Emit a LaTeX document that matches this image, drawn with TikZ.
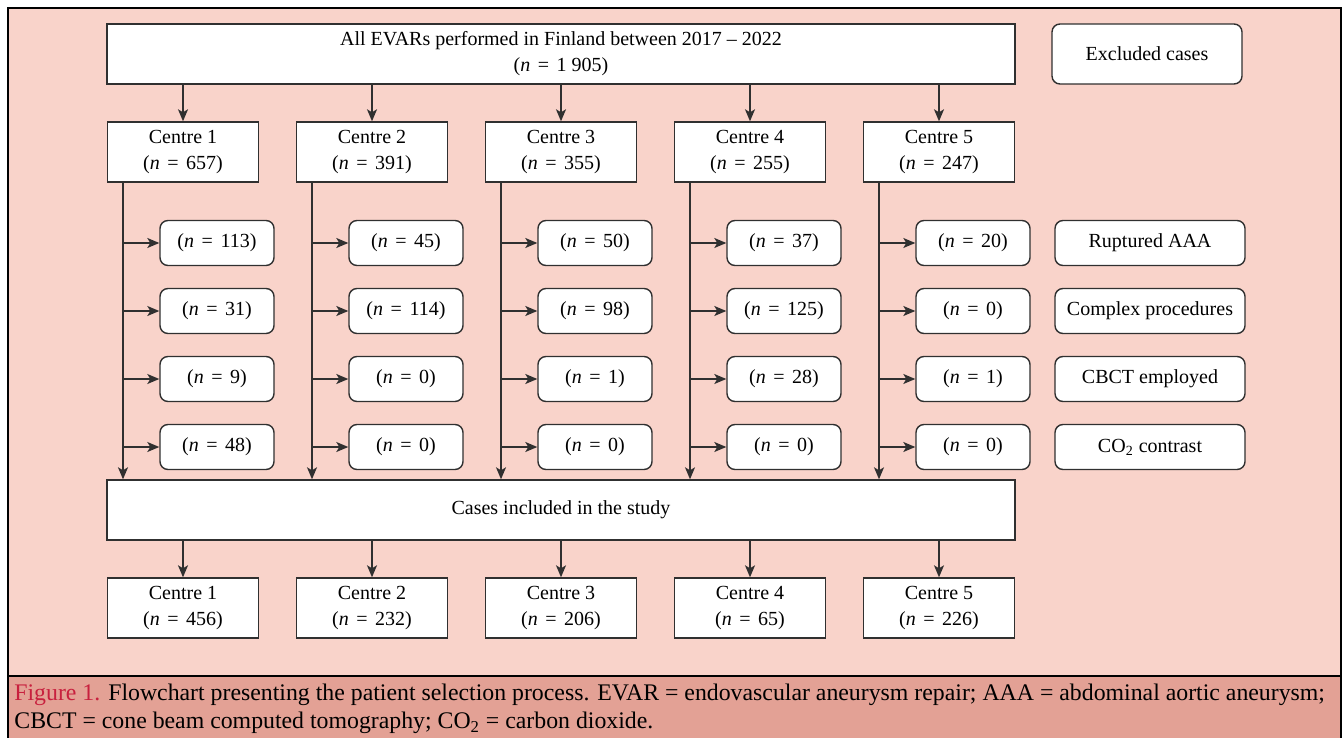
\documentclass[tikz,border=0pt]{standalone}
\usepackage{fontspec}
\setmainfont{Liberation Serif}
\newfontfamily\capfont{Liberation Serif}
\usetikzlibrary{arrows.meta}

\definecolor{panelpink}{HTML}{F9D3CA}
\definecolor{capband}{HTML}{E3A195}
\definecolor{figred}{HTML}{C8203E}
\definecolor{linegrey}{HTML}{303030}

\newcommand{\ncount}[1]{(\textit{n}\hspace{0.38em}=\hspace{0.38em}#1)}

\tikzset{
  box/.style={draw=linegrey, fill=white, line width=0.7pt, align=center,
    inner sep=0pt, minimum height=30pt, font=\fontsize{10}{13}\selectfont},
  centrebox/.style={box, minimum width=75.5pt},
  countbox/.style={box, rounded corners=4pt, minimum width=57pt, minimum height=22.5pt},
  reasonbox/.style={countbox, minimum width=95pt},
  flow/.style={draw=linegrey, line width=0.7pt,
    -{Stealth[length=6pt,width=5pt,inset=1.5pt]}},
}

\begin{document}
\begin{tikzpicture}[x=0.5pt,y=-0.5pt]
  \useasboundingbox (0,0) rectangle (1343,738);
  %
  \fill[panelpink] (8,8) rectangle (1341,676);
  \fill[capband] (8,676) rectangle (1341,738);
  \draw[line width=1pt] (8,738) -- (8,8) -- (1341,8) -- (1341,738);
  \draw[line width=1pt] (8,676) -- (1341,676);
  %
  \node[box, minimum width=454pt] (all) at (561,54)
    {All EVARs performed in Finland between 2017 -- 2022\\\ncount{1 905}};
  \node[box, rounded corners=4pt, minimum width=95pt] (excl) at (1147,54) {Excluded cases};
  \node[box, minimum width=454pt] (incl) at (561,510) {Cases included in the study};
  %
  \foreach \i/\a/\b in {1/657/456, 2/391/232, 3/355/206, 4/255/65, 5/247/226} {
    \pgfmathsetmacro\cx{183+189*(\i-1)}
    \node[centrebox] (c\i) at (\cx,152) {Centre \i\\\ncount{\a}};
    \node[centrebox] (f\i) at (\cx,608) {Centre \i\\\ncount{\b}};
    \coordinate (v\i) at (\cx-60,182);
    \draw[flow] (all.south -| c\i) -- (c\i.north);
    \draw[flow] (incl.south -| f\i) -- (f\i.north);
    \draw[flow] (v\i) -- (v\i |- incl.north);
  }
  %
  \foreach \i/\p/\q/\s/\t in {1/113/31/9/48, 2/45/114/0/0, 3/50/98/1/0,
                              4/37/125/28/0, 5/20/0/1/0} {
    \pgfmathsetmacro\cx{183+189*(\i-1)}
    \foreach \r/\v in {1/\p, 2/\q, 3/\s, 4/\t} {
      \pgfmathsetmacro\ry{243+68*(\r-1)}
      \node[countbox] (x\i\r) at (\cx+34,\ry) {\ncount{\v}};
      \draw[flow] (v\i |- x\i\r) -- (x\i\r.west);
    }
  }
  %
  \foreach \r/\t in {1/Ruptured AAA, 2/Complex procedures, 3/CBCT employed,
                     4/CO\textsubscript{2} contrast} {
    \pgfmathsetmacro\ry{243+68*(\r-1)}
    \node[reasonbox] (r\r) at (1150,\ry) {\t};
  }
  %
  \node[anchor=north west, align=left, inner sep=0pt,
        font=\capfont\fontsize{11.9}{14}\selectfont] (cap) at (14,684)
    {\textcolor{figred}{Figure 1.} Flowchart presenting the patient selection process.
     EVAR = endovascular aneurysm repair; AAA = abdominal aortic aneurysm;\\
     CBCT = cone beam computed tomography; CO\textsubscript{2} = carbon dioxide.};
\end{tikzpicture}
\end{document}
